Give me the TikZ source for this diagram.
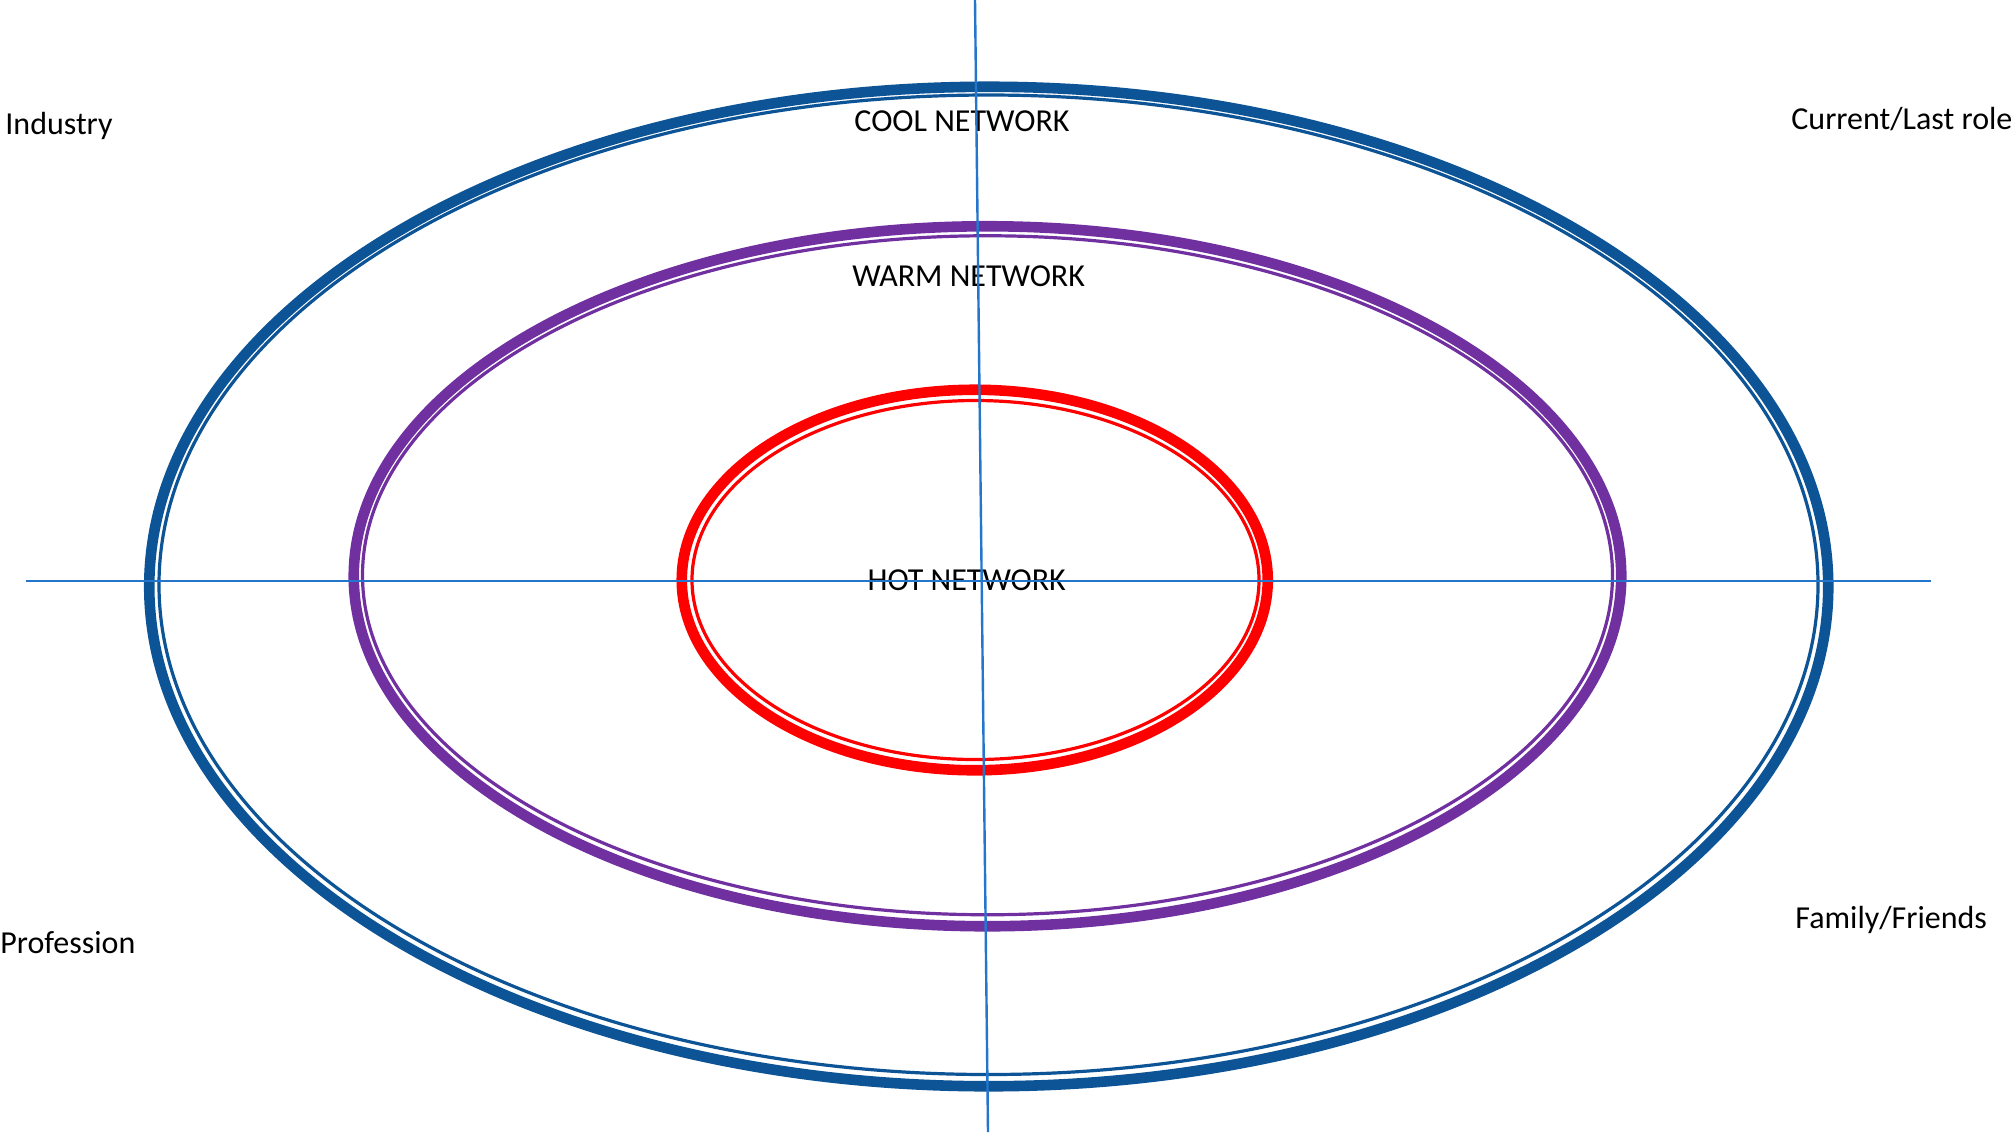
\documentclass[tikz,border=0pt]{standalone}
\usepackage{fontspec}
\setmainfont{Carlito}
\definecolor{coolblue}{RGB}{12,84,150}
\definecolor{warmpurple}{RGB}{112,48,160}
\definecolor{hotred}{RGB}{255,0,0}
\definecolor{axisblue}{RGB}{36,118,204}
\begin{document}
\begin{tikzpicture}[x=0.5pt,y=-0.5pt,
  thickring/.style={line width=5.3pt},
  thinring/.style={line width=1.6pt},
  axisline/.style={draw=axisblue,line width=1.2pt},
  lbl/.style={font=\fontsize{16}{19}\selectfont,text=black,inner sep=0pt}]
\useasboundingbox (0,0) rectangle (2013,1132);
\fill[white] (0,0) rectangle (2013,1132);
% cool network
\draw[coolblue,thickring] (988.75,586.5) ellipse [x radius=839.5,y radius=499.75];
\draw[coolblue,thinring] (988.5,584.75) ellipse [x radius=829.5,y radius=489.75];
% warm network
\draw[warmpurple,thickring] (987.5,576.25) ellipse [x radius=633.75,y radius=350];
\draw[warmpurple,thinring] (987.5,575.25) ellipse [x radius=625,y radius=339.5];
% hot network
\draw[hotred,thickring] (974.75,580) ellipse [x radius=293,y radius=190.25];
\draw[hotred,thinring] (975.5,580) ellipse [x radius=283.5,y radius=179.5];
% labels
\node[lbl] (cool) at (962,121) {COOL NETWORK};
\node[lbl] (warm) at (968.6,276) {WARM NETWORK};
\node[lbl] (hot) at (966.7,580) {HOT NETWORK};
\node[lbl,anchor=west] (industry) at (5,126) {Industry};
\node[lbl,anchor=west] (current) at (1791,119) {Current/Last role};
\node[lbl,anchor=west] (profession) at (0,943) {Profession};
\node[lbl,anchor=west] (family) at (1795,920) {Family/Friends};
% axes
\coordinate (hl) at (26,581);
\coordinate (hr) at (1931,581);
\coordinate (vt) at (975,0);
\coordinate (vb) at (988,1132);
\draw[axisline] (hl) -- (hr);
\draw[axisline] (vt) -- (vb);
\end{tikzpicture}
\end{document}
